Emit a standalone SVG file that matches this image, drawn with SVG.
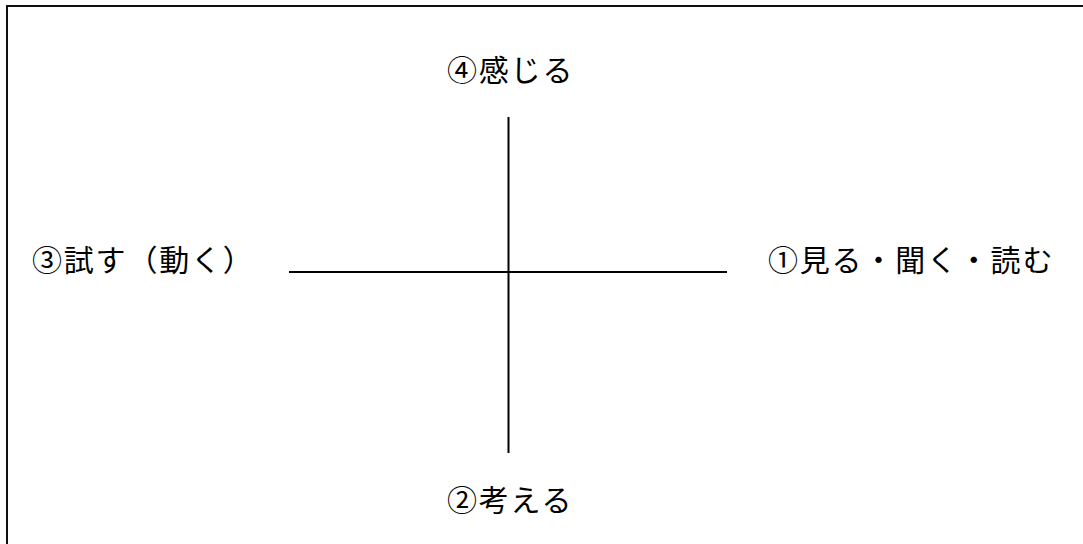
<svg xmlns="http://www.w3.org/2000/svg" width="1083" height="544" viewBox="0 0 1083 544">
<style>
.lbl{font-family:"Noto Sans CJK JP","Noto Sans CJK SC",sans-serif;font-size:30px;letter-spacing:1.8px;fill:#000;}
.ln{stroke:#000;stroke-width:2;fill:none;}
</style>
<rect x="0" y="0" width="1083" height="544" fill="#fff"/>
<rect id="frame" x="7" y="6" width="1100" height="600" fill="none" stroke="#111" stroke-width="2"/>
<g id="connectors">
<line class="ln" x1="289" y1="272" x2="727" y2="272"/>
<line class="ln" x1="508.5" y1="117" x2="508.5" y2="453"/>
</g>
<g id="node-feel"><text class="lbl" x="447" y="81">④感じる</text></g>
<g id="node-think"><text class="lbl" x="447" y="511">②考える</text></g>
<g id="node-try"><text class="lbl" x="32" y="271">③試す（動く）</text></g>
<g id="node-see"><text class="lbl" x="768" y="271">①見る・聞く・読む</text></g>
</svg>
